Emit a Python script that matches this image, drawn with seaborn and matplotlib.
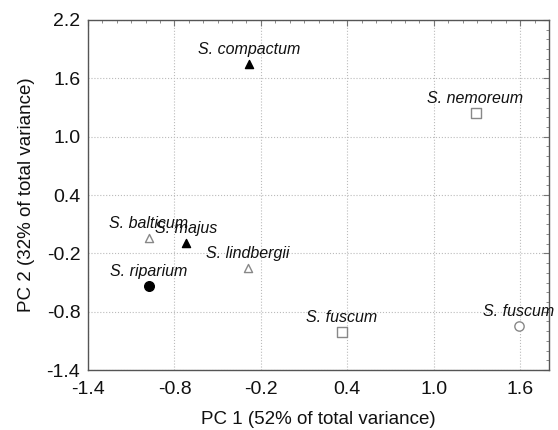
import matplotlib
matplotlib.use("Agg")
import matplotlib.pyplot as plt
import seaborn as sns
import pandas as pd
from matplotlib.ticker import MultipleLocator

species = ["S. compactum", "S. nemoreum", "S. balticum", "S. majus",
           "S. lindbergii", "S. riparium", "S. fuscum", "S. fuscum"]
pc1 = [-0.28, 1.29, -0.98, -0.72, -0.29, -0.98, 0.36, 1.59]
pc2 = [1.75, 1.24, -0.04, -0.09, -0.35, -0.54, -1.01, -0.95]
group = ["filled_tri", "open_sq", "open_tri", "filled_tri",
         "open_tri", "filled_circ", "open_sq", "open_circ"]

xticks = [-1.4, -0.8, -0.2, 0.4, 1.0, 1.6]
yticks = [-1.4, -0.8, -0.2, 0.4, 1.0, 1.6, 2.2]

df = pd.DataFrame({"species": species, "pc1": pc1, "pc2": pc2, "group": group})

sns.set_style("white")
plt.rcParams["font.family"] = ["Liberation Sans", "DejaVu Sans"]

fig = plt.figure(figsize=(5.58, 4.30), dpi=100)
ax = fig.add_axes([0.1577, 0.1395, 0.8262, 0.814])

styles = {
    "filled_tri": dict(marker="^", facecolor="black", edgecolor="black", s=34),
    "open_tri": dict(marker="^", facecolor="white", edgecolor="#888888", s=34),
    "open_sq": dict(marker="s", facecolor="white", edgecolor="#888888", s=42),
    "filled_circ": dict(marker="o", facecolor="black", edgecolor="black", s=48),
    "open_circ": dict(marker="o", facecolor="white", edgecolor="#888888", s=45),
}
for g, st in styles.items():
    sub = df[df["group"] == g]
    sns.scatterplot(data=sub, x="pc1", y="pc2", ax=ax, marker=st["marker"],
                    color=st["facecolor"], edgecolor=st["edgecolor"],
                    s=st["s"], linewidth=1.0, legend=False, zorder=3)

for _, r in df.iterrows():
    ax.annotate(r["species"], (r["pc1"], r["pc2"]), xytext=(0, 5),
                textcoords="offset points", ha="center", va="bottom",
                fontsize=11.5, style="italic", color="#111111", zorder=4)

ax.set_xlim(-1.4, 1.8)
ax.set_ylim(-1.4, 2.2)
ax.set_xticks(xticks)
ax.set_yticks(yticks)
ax.set_xticklabels([f"{v:.1f}" for v in xticks])
ax.set_yticklabels([f"{v:.1f}" for v in yticks])
ax.xaxis.set_minor_locator(MultipleLocator(0.1))
ax.yaxis.set_minor_locator(MultipleLocator(0.1))
ax.tick_params(which="both", direction="in", top=True, right=True,
               color="#777777", labelsize=14, labelcolor="#111111")
ax.tick_params(which="major", length=4, width=0.8)
ax.tick_params(which="minor", length=2.5, width=0.6)
ax.tick_params(axis="x", which="major", pad=8)
ax.tick_params(axis="y", which="major", pad=5.5)
ax.grid(True, which="major", linestyle=":", color="#bbbbbb", linewidth=0.8)
for sp in ax.spines.values():
    sp.set_color("#555555")
    sp.set_linewidth(1.0)

ax.set_xlabel("PC 1 (52% of total variance)", fontsize=13.5, color="#111111", labelpad=9)
ax.set_ylabel("PC 2 (32% of total variance)", fontsize=13.5, color="#111111", labelpad=8)

fig.savefig("out.png", dpi=100)
